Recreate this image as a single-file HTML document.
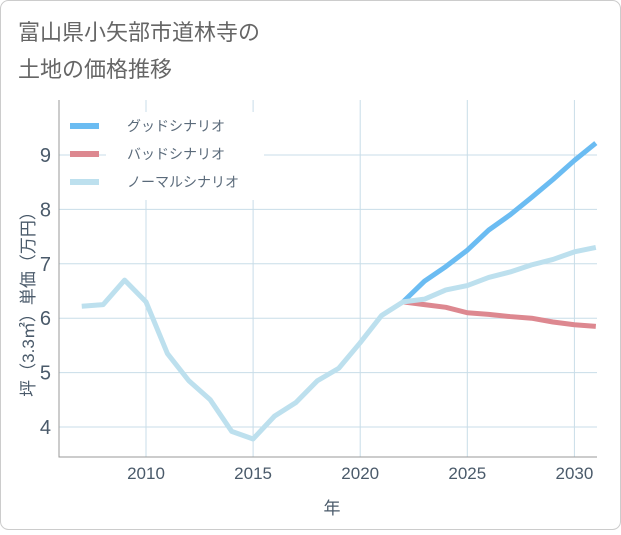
<!DOCTYPE html>
<html><head><meta charset="utf-8"><style>
body{margin:0;background:#fff}
svg text{font-family:"Liberation Sans","Noto Sans CJK JP",sans-serif}
</style></head><body>
<svg width="621" height="530" viewBox="0 0 621 530">
<rect x="0.5" y="0.5" width="620" height="529" rx="8" fill="#fff" stroke="#ccc"/>
<text x="18" y="40" font-size="22" fill="#666">富山県小矢部市道林寺の</text>
<text x="18" y="77" font-size="22" fill="#666">土地の価格推移</text>
<g id="grid"></g>
<g id="axes"></g>
<g id="series"></g>
<g id="legend"></g>
<text x="332" y="514" font-size="17" fill="#4a5a6a" text-anchor="middle">年</text>
<text transform="translate(34,300) rotate(-90)" font-size="17" fill="#4a5a6a" text-anchor="middle">坪（3.3㎡）単価（万円）</text>
</svg>
<script>
const years=[2007,2008,2009,2010,2011,2012,2013,2014,2015,2016,2017,2018,2019,2020,2021,2022,2023,2024,2025,2026,2027,2028,2029,2030,2031];
const normal=[6.22,6.25,6.7,6.3,5.35,4.85,4.5,3.92,3.78,4.2,4.45,4.85,5.08,5.55,6.05,6.3,6.35,6.52,6.6,6.75,6.85,6.98,7.08,7.22,7.3];
const futureYears=[2022,2023,2024,2025,2026,2027,2028,2029,2030,2031];
const good=[6.3,6.68,6.95,7.25,7.62,7.9,8.22,8.55,8.9,9.22];
const bad=[6.3,6.25,6.2,6.1,6.07,6.03,6.0,5.93,5.88,5.85];
const xTicks=[2010,2015,2020,2025,2030];
const yTicks=[4,5,6,7,8,9];
const NS='http://www.w3.org/2000/svg';
const L=59,R=597,T=100,B=457;
const X=v=>146+(v-2010)*21.42, Y=v=>155+(9-v)*54.4;
function mk(tag,a,p){const e=document.createElementNS(NS,tag);for(const k in a)e.setAttribute(k,a[k]);p.appendChild(e);return e;}
const g=document.getElementById('grid'),ax=document.getElementById('axes'),s=document.getElementById('series'),lg=document.getElementById('legend');
xTicks.forEach(t=>{const l=mk('line',{x1:X(t),x2:X(t),y1:T,y2:B,stroke:'#c8dde8'},g);

const tx=mk('text',{x:X(t),y:479,'font-size':17,fill:'#4a5a6a','text-anchor':'middle'},ax);tx.textContent=t;
});
yTicks.forEach(t=>{const l=mk('line',{x1:L,x2:R,y1:Y(t),y2:Y(t),stroke:'#c8dde8'},g);

const tx=mk('text',{x:51,y:Y(t)+7,'font-size':20,fill:'#4a5a6a','text-anchor':'end'},ax);tx.textContent=t;
});
const al=mk('path',{d:`M${L},${T}V${B}H${R}`,stroke:'#999',fill:'none'},ax);

function line(xs,ys,c,n){const p=mk('polyline',{points:xs.map((x,i)=>X(x)+','+Y(ys[i])).join(' '),fill:'none',stroke:c,'stroke-width':5,'stroke-linejoin':'round'},s);
}
line(futureYears,bad,'#dd8890','bad-scenario-line');
line(futureYears,good,'#6bbcf2','good-scenario-line');
line(years,normal,'#bde0ee','normal-scenario-line');
const bg=mk('rect',{x:106,y:112,width:158,height:88,fill:'#fff'},lg);

[['グッドシナリオ','#6bbcf2'],['バッドシナリオ','#dd8890'],['ノーマルシナリオ','#bde0ee']].forEach((e,i)=>{
const y=126+i*28;const r=mk('line',{x1:70,x2:99,y1:y,y2:y,stroke:e[1],'stroke-width':6},lg);

const t=mk('text',{x:127,y:y+5,'font-size':14,fill:'#5a6a7a'},lg);t.textContent=e[0];
});
</script>
</body></html>
